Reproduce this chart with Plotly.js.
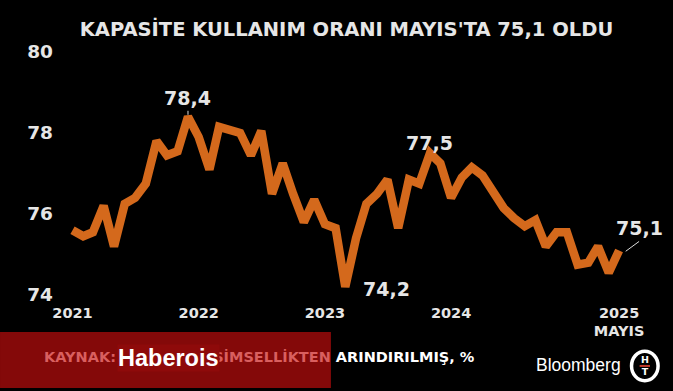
<!DOCTYPE html>
<html>
<head>
<meta charset="utf-8">
<script src="https://cdn.plot.ly/plotly-3.0.1.min.js"></script>
<style>html,body{margin:0;padding:0;background:#000;}#chart{width:673px;height:391px;}</style>
</head>
<body>
<div id="chart"></div>
<script>
const months = [
 "2021-01-01","2021-02-01","2021-03-01","2021-04-01","2021-05-01","2021-06-01","2021-07-01","2021-08-01","2021-09-01","2021-10-01","2021-11-01","2021-12-01",
 "2022-01-01","2022-02-01","2022-03-01","2022-04-01","2022-05-01","2022-06-01","2022-07-01","2022-08-01","2022-09-01","2022-10-01","2022-11-01","2022-12-01",
 "2023-01-01","2023-02-01","2023-03-01","2023-04-01","2023-05-01","2023-06-01","2023-07-01","2023-08-01","2023-09-01","2023-10-01","2023-11-01","2023-12-01",
 "2024-01-01","2024-02-01","2024-03-01","2024-04-01","2024-05-01","2024-06-01","2024-07-01","2024-08-01","2024-09-01","2024-10-01","2024-11-01","2024-12-01",
 "2025-01-01","2025-02-01","2025-03-01","2025-04-01","2025-05-01"
];
const kko = [
 75.6,75.45,75.55,76.2,75.2,76.25,76.4,76.75,77.8,77.45,77.55,78.4,
 77.9,77.1,78.15,78.05,78.0,77.45,78.05,76.5,77.25,76.5,75.8,76.35,
 75.75,75.65,74.2,75.4,76.25,76.5,76.85,75.65,76.85,76.75,77.5,77.25,
 76.4,76.9,77.15,76.95,76.55,76.15,75.9,75.7,75.85,75.2,75.55,75.55,
 74.75,74.8,75.2,74.55,75.1
];
const tickVals = ["2021-01-01","2022-01-01","2023-01-01","2024-01-01","2025-05-01"];
const tickText = ["2021","2022","2023","2024","2025<br>MAYIS"];
const yTicks = [74,76,78,80];
const callouts = [
 {x:"2021-12-01", y:78.4, text:"78,4", ax:0, ay:-6},
 {x:"2023-03-01", y:74.2, text:"74,2", ax:0, ay:0},
 {x:"2023-11-01", y:77.5, text:"77,5", ax:0, ay:0},
 {x:"2025-05-01", y:75.1, text:"75,1", ax:15, ay:-11}
];
const titleText = "KAPASİTE KULLANIM ORANI MAYIS'TA 75,1 OLDU";
const sourceText = "<span style='color:#d95f5f'>KAYNAK: TCMB, MEVSİMSELLİKTEN</span> ARINDIRILMIŞ, %";

const labelColor = "#e6e6e6";
const anns = callouts.map((c,i) => ({
  x:c.x, y:c.y, xref:"x", yref:"y", text:c.text,
  showarrow:true, arrowhead:0, arrowwidth:1, arrowcolor:"#dddddd",
  ax:c.ax, ay:c.ay, standoff:2,
  xanchor:"center", yanchor:"bottom",
  font:{family:"DejaVu Sans", size:19, color:labelColor, weight:"bold"}
}));
anns[1].showarrow = false; anns[1].xanchor = "left"; anns[1].yanchor = "middle";
anns[1].xshift = 16; anns[1].yshift = -2;
anns[2].showarrow = false; anns[2].yshift = -3;
anns[3].xshift = 5; anns[3].yshift = -2;

anns.push({xref:"paper", yref:"paper", x:-0.0275, y:-0.255, xanchor:"left", yanchor:"middle",
  text:sourceText, showarrow:false,
  font:{family:"DejaVu Sans", size:14.5, color:"#ffffff", weight:"bold"}});
anns.push({xref:"paper", yref:"paper", x:0.102, y:-0.259, xanchor:"left", yanchor:"middle",
  text:"Haberois", showarrow:false, bgcolor:"#8e0a0a", borderpad:0,
  font:{family:"Liberation Sans", size:23.5, color:"#ffffff", weight:"bold"}});
anns.push({xref:"paper", yref:"paper", x:0.98, y:-0.288, xanchor:"right", yanchor:"middle",
  text:"Bloomberg", showarrow:false,
  font:{family:"Liberation Sans", size:17.5, color:"#ffffff"}});
anns.push({xref:"paper", yref:"paper", x:1.017, y:-0.292, xanchor:"center", yanchor:"middle",
  text:"H<br>T", showarrow:false,
  font:{family:"DejaVu Sans", size:9.5, color:"#ffffff", weight:"bold"}});

const shapes = [
  {type:"rect", xref:"paper", yref:"paper", x0:-0.1005, x1:0.473, y0:-0.152, y1:-0.383,
   fillcolor:"rgba(142,10,10,0.93)", line:{width:0}, layer:"above"},
  {type:"circle", xref:"paper", yref:"paper", x0:0.994, x1:1.040, y0:-0.231, y1:-0.353,
   fillcolor:"#000", line:{color:"#ffffff", width:3.5}, layer:"above"},
  {type:"line", xref:"paper", yref:"paper", x0:1.008, x1:1.026, y0:-0.292, y1:-0.292,
   line:{color:"#c0392b", width:2}, layer:"above"}
];

Plotly.newPlot("chart", [{
  x: months, y: kko, type:"scatter", mode:"lines",
  line:{color:"#d4691c", width:8.5, shape:"linear"},
  hoverinfo:"skip"
}], {
  width:673, height:391,
  paper_bgcolor:"#000", plot_bgcolor:"#000",
  margin:{l:58, r:38, t:52, b:96},
  showlegend:false,
  title:{text:titleText, x:0.5, xref:"paper", y:0.925, yanchor:"middle",
    font:{family:"DejaVu Sans", size:19.5, color:"#e6e6e6", weight:"bold"}},
  xaxis:{type:"date", range:["2020-11-20","2025-06-16"], showgrid:false, zeroline:false,
    showline:false, ticks:"", tickvals:tickVals, ticktext:tickText, tickangle:0,
    ticklabelstandoff:7,
    tickfont:{family:"DejaVu Sans", size:14.5, color:"#e6e6e6", weight:"bold"}},
  yaxis:{range:[74,80], tickvals:yTicks, showgrid:false, zeroline:false, showline:false,
    ticks:"", tickfont:{family:"DejaVu Sans", size:18.5, color:"#e6e6e6", weight:"bold"},
    ticklabelstandoff:4},
  annotations:anns,
  shapes:shapes
}, {displayModeBar:false, staticPlot:true});
</script>
</body>
</html>
